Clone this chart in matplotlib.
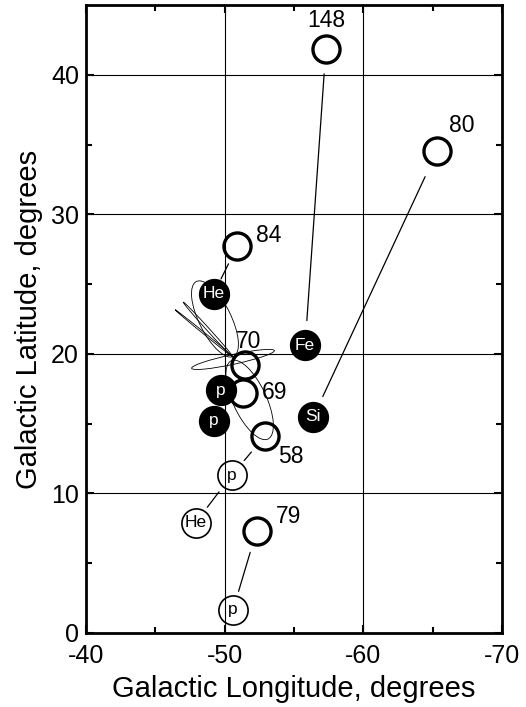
import matplotlib.pyplot as plt
from matplotlib.patches import Ellipse

plt.rcParams['font.family'] = ['Liberation Sans', 'DejaVu Sans']
plt.rcParams['axes.unicode_minus'] = False

# numbered open circles
num_labels = ['148', '80', '84', '70', '69', '58', '79']
num_lon = [-57.3, -65.3, -50.9, -51.5, -51.3, -52.9, -52.3]
num_lat = [41.85, 34.5, 27.7, 19.2, 17.2, 14.1, 7.3]
num_offsets = [(0, 28), (25, 26), (32, 11), (3, 24), (32, 0), (26, -20), (32, 15)]

# filled circles (element labels)
fill_labels = ['He', 'Fe', 'Si', 'p', 'p']
fill_lon = [-49.2, -55.8, -56.4, -49.7, -49.2]
fill_lat = [24.3, 20.6, 15.5, 17.4, 15.2]

# thin open circles (element labels)
open_labels = ['p', 'He', 'p']
open_lon = [-50.5, -47.9, -50.6]
open_lat = [11.3, 7.9, 1.65]

# connecting segments: (lon1, lat1, lon2, lat2, shrinkA pt, shrinkB pt)
links = [
    (-57.3, 41.85, -55.8, 20.6, 18, 18),
    (-65.3, 34.5, -56.4, 15.5, 20, 16),
    (-50.9, 27.7, -49.2, 24.3, 14, 12),
    (-52.9, 14.1, -50.5, 11.3, 15, 14),
    (-47.9, 7.9, -50.5, 11.3, 14, 15),
    (-52.3, 7.3, -50.6, 1.65, 16, 14),
]

# error ellipses: center lon, center lat, width, height, angle
ell_lon = [-49.3, -51.8, -50.6, -48.6, -48.8]
ell_lat = [22.5, 16.7, 19.6, 21.4, 21.75]
ell_w = [6.0, 6.2, 6.1, 5.6, 5.3]
ell_h = [2.3, 2.4, 0.7, 0.12, 0.2]
ell_ang = [63.4, 64.7, -12.0, 39.0, 47.6]

fig = plt.figure(figsize=(5.26, 7.07), dpi=100)
ax = fig.add_axes([0.1635, 0.1047, 0.7909, 0.8883])

for x, y, w, h, a in zip(ell_lon, ell_lat, ell_w, ell_h, ell_ang):
    ax.add_patch(Ellipse((x, y), w, h, angle=a, fill=False, lw=0.6,
                         color='black', zorder=2))

for x1, y1, x2, y2, sa, sb in links:
    ax.annotate('', xy=(x2, y2), xytext=(x1, y1),
                arrowprops=dict(arrowstyle='-', lw=0.9, color='black',
                                shrinkA=sa, shrinkB=sb), zorder=2)

ax.plot(num_lon, num_lat, 'o', ms=19.5, mfc='none', mec='black', mew=2.4,
        zorder=4, ls='none')
for lab, x, y, off in zip(num_labels, num_lon, num_lat, num_offsets):
    ax.annotate(lab, (x, y), xytext=off, textcoords='offset pixels',
                ha='center', va='center', fontsize=16.5, zorder=5)

ax.plot(fill_lon, fill_lat, 'o', ms=21.5, mfc='black', mec='black',
        zorder=4, ls='none')
for lab, x, y in zip(fill_labels, fill_lon, fill_lat):
    ax.text(x, y, lab, ha='center', va='center', color='white',
            fontsize=12.5, zorder=5)

ax.plot(open_lon, open_lat, 'o', ms=21, mfc='none', mec='black', mew=1.2,
        zorder=4, ls='none')
for lab, x, y in zip(open_labels, open_lon, open_lat):
    ax.text(x, y, lab, ha='center', va='center', color='black',
            fontsize=12.5, zorder=5)

ax.set_xlim(-40, -70)
ax.set_ylim(0, 45)
ax.set_xticks([-40, -50, -60, -70])
ax.set_xticks([-45, -55, -65], minor=True)
ax.set_yticks([0, 10, 20, 30, 40])
ax.set_yticks([5, 15, 25, 35], minor=True)
ax.grid(True, which='major', color='black', lw=0.8)
ax.tick_params(which='both', direction='in', top=True, right=True,
               labelsize=18, width=1.5)
ax.tick_params(which='major', length=6, pad=5)
ax.tick_params(axis='x', which='major', pad=8)
ax.tick_params(which='minor', length=4)
for s in ax.spines.values():
    s.set_linewidth(2)

ax.set_xlabel('Galactic Longitude, degrees', fontsize=21, labelpad=5)
ax.set_ylabel('Galactic Latitude, degrees', fontsize=21, labelpad=6)

fig.savefig('out.png', dpi=100)
